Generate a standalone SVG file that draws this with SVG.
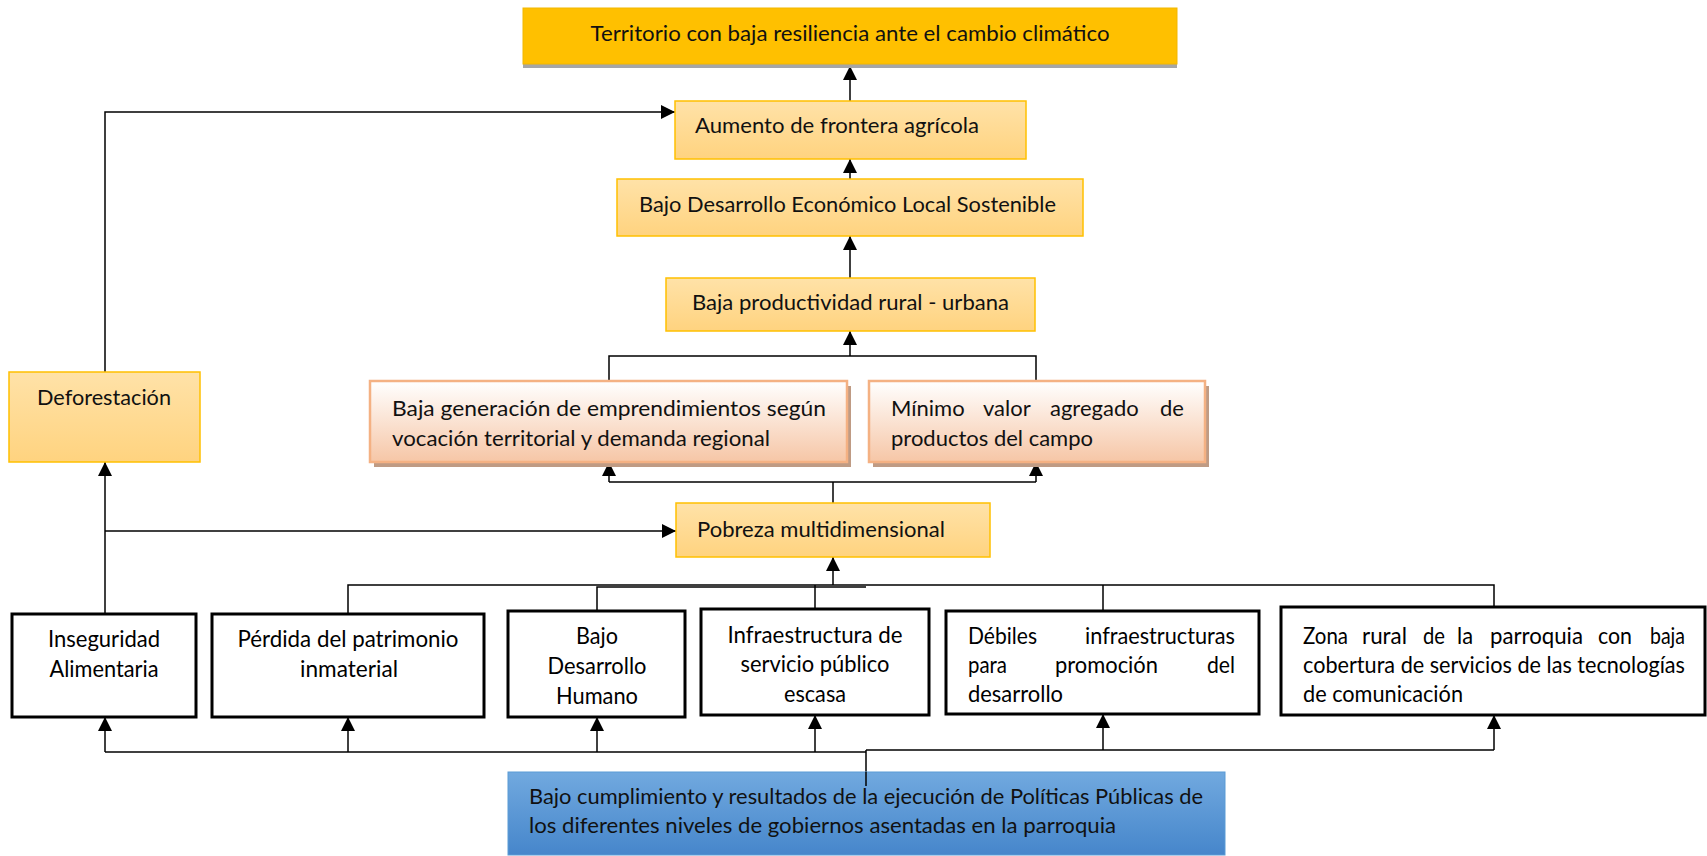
<svg xmlns="http://www.w3.org/2000/svg" width="1707" height="856" viewBox="0 0 1707 856">
<defs>
<linearGradient id="gOr" x1="0" y1="0" x2="0" y2="1"><stop offset="0" stop-color="#FFE2A8"/><stop offset="1" stop-color="#FFD37F"/></linearGradient>
<linearGradient id="gPe" x1="0" y1="0" x2="0" y2="1"><stop offset="0" stop-color="#FFFFFF"/><stop offset="1" stop-color="#F6C6A6"/></linearGradient>
<linearGradient id="gBl" x1="0" y1="0" x2="0" y2="1"><stop offset="0" stop-color="#71A9DF"/><stop offset="1" stop-color="#4686CB"/></linearGradient>
<marker id="ar" markerUnits="userSpaceOnUse" markerWidth="14" markerHeight="16" viewBox="0 0 14 16" refX="14" refY="7" orient="auto"><path d="M0,0 L14,7 L0,14 Z" fill="#000"/></marker>
</defs>
<style>
text{font-family:Lato,"Open Sans","Liberation Sans",sans-serif;font-size:22px;fill:#111}
.c{text-anchor:middle}
.b{font-size:23px;fill:#000}
.or{fill:url(#gOr);stroke:#FFC000;stroke-width:1.5}
.pe{fill:url(#gPe);stroke:#F4B183;stroke-width:2.5}
.sh{fill:#BF9B84}
.wb{fill:#fff;stroke:#000;stroke-width:3}
.ln{fill:none;stroke:#000;stroke-width:1.5}
.ar{fill:none;stroke:#000;stroke-width:1.5;marker-end:url(#ar)}
</style>
<rect width="1707" height="856" fill="#fff"/>

<g id="connectors">
<path class="ar" d="M850,101 V66"/>
<path class="ar" d="M850,179 V159"/>
<path class="ar" d="M850,278 V236"/>
<path class="ln" d="M609,381 V356 H1036 V381"/>
<path class="ar" d="M850,356 V331"/>
<path class="ln" d="M833,503 V482"/>
<path class="ln" d="M609,482 H1036"/>
<path class="ar" d="M609,482 V462"/>
<path class="ar" d="M1036,482 V462"/>
<path class="ar" d="M105,372 V112 H675"/>
<path class="ar" d="M105,614 V462"/>
<path class="ar" d="M105,531 H676"/>
<path class="ln" d="M348,614 V585 H1494 V607"/>
<path class="ln" d="M597,611 V587 H866"/>
<path class="ln" d="M815,609 V585"/>
<path class="ln" d="M1103,611 V585"/>
<path class="ar" d="M833,585 V557"/>
<path class="ln" d="M105,752 H866"/>
<path class="ln" d="M866,750 H1494"/>
<path class="ln" d="M866,786 V750"/>
<path class="ar" d="M105,752 V717"/>
<path class="ar" d="M348,752 V717"/>
<path class="ar" d="M597,752 V717"/>
<path class="ar" d="M815,752 V715"/>
<path class="ar" d="M1103,750 V714"/>
<path class="ar" d="M1494,750 V715"/>
</g>

<g id="n-territorio">
<rect x="523" y="11" width="654" height="57" fill="#A6A6A6"/>
<rect x="523" y="8" width="654" height="56" fill="#FFC000" stroke="#F2B700" stroke-width="1"/>
<text x="850" y="41" class="c" textLength="519" lengthAdjust="spacingAndGlyphs">Territorio con baja resiliencia ante el cambio climático</text>
</g>

<g id="n-aumento">
<rect x="675" y="101" width="351" height="58" class="or"/>
<text x="695" y="133" textLength="284" lengthAdjust="spacingAndGlyphs">Aumento de frontera agrícola</text>
</g>

<g id="n-bajo-desarrollo-eco">
<rect x="617" y="179" width="466" height="57" class="or"/>
<text x="639" y="212" textLength="417" lengthAdjust="spacingAndGlyphs">Bajo Desarrollo Económico Local Sostenible</text>
</g>

<g id="n-baja-productividad">
<rect x="666" y="278" width="369" height="53" class="or"/>
<text x="692" y="310" textLength="317" lengthAdjust="spacingAndGlyphs">Baja productividad rural - urbana</text>
</g>

<g id="n-baja-generacion">
<rect x="374" y="386" width="477" height="81" class="sh"/>
<rect x="370" y="381" width="477" height="81" class="pe"/>
<text x="392" y="416" textLength="434" lengthAdjust="spacingAndGlyphs">Baja generación de emprendimientos según</text>
<text x="392" y="446" textLength="378" lengthAdjust="spacingAndGlyphs">vocación territorial y demanda regional</text>
</g>

<g id="n-minimo-valor">
<rect x="873" y="386" width="336" height="81" class="sh"/>
<rect x="869" y="381" width="336" height="81" class="pe"/>
<text y="416"><tspan x="891">Mínimo</tspan><tspan x="983">valor</tspan><tspan x="1050">agregado</tspan><tspan x="1160">de</tspan></text>
<text x="891" y="446" textLength="202" lengthAdjust="spacingAndGlyphs">productos del campo</text>
</g>

<g id="n-pobreza">
<rect x="676" y="503" width="314" height="54" class="or"/>
<text x="697" y="537" textLength="248" lengthAdjust="spacingAndGlyphs">Pobreza multidimensional</text>
</g>

<g id="n-deforestacion">
<rect x="9" y="372" width="191" height="90" class="or"/>
<text x="104" y="405" class="c" textLength="134" lengthAdjust="spacingAndGlyphs">Deforestación</text>
</g>

<g id="n-inseguridad">
<rect x="12" y="614" width="184" height="103" class="wb"/>
<text x="104" y="647" class="c b" textLength="112" lengthAdjust="spacingAndGlyphs">Inseguridad</text>
<text x="104" y="677" class="c b" textLength="109" lengthAdjust="spacingAndGlyphs">Alimentaria</text>
</g>

<g id="n-perdida">
<rect x="212" y="614" width="272" height="103" class="wb"/>
<text x="348" y="647" class="c b" textLength="221" lengthAdjust="spacingAndGlyphs">Pérdida del patrimonio</text>
<text x="349" y="677" class="c b" textLength="98" lengthAdjust="spacingAndGlyphs">inmaterial</text>
</g>

<g id="n-bajo-desarrollo-humano">
<rect x="508" y="611" width="177" height="106" class="wb"/>
<text x="597" y="644" class="c b" textLength="42" lengthAdjust="spacingAndGlyphs">Bajo</text>
<text x="597" y="674" class="c b" textLength="99" lengthAdjust="spacingAndGlyphs">Desarrollo</text>
<text x="597" y="704" class="c b" textLength="82" lengthAdjust="spacingAndGlyphs">Humano</text>
</g>

<g id="n-infraestructura">
<rect x="701" y="609" width="228" height="106" class="wb"/>
<text x="815" y="643" class="c b" textLength="175" lengthAdjust="spacingAndGlyphs">Infraestructura de</text>
<text x="815" y="672" class="c b" textLength="149" lengthAdjust="spacingAndGlyphs">servicio público</text>
<text x="815" y="702" class="c b" textLength="62" lengthAdjust="spacingAndGlyphs">escasa</text>
</g>

<g id="n-debiles">
<rect x="946" y="611" width="313" height="103" class="wb"/>
<text x="968" y="644" class="b" textLength="69" lengthAdjust="spacingAndGlyphs">Débiles</text>
<text x="1085" y="644" class="b" textLength="150" lengthAdjust="spacingAndGlyphs">infraestructuras</text>
<text x="968" y="673" class="b" textLength="39" lengthAdjust="spacingAndGlyphs">para</text>
<text x="1055" y="673" class="b" textLength="103" lengthAdjust="spacingAndGlyphs">promoción</text>
<text x="1207" y="673" class="b" textLength="28" lengthAdjust="spacingAndGlyphs">del</text>
<text x="968" y="702" class="b" textLength="95" lengthAdjust="spacingAndGlyphs">desarrollo</text>
</g>

<g id="n-zona-rural">
<rect x="1281" y="607" width="424" height="108" class="wb"/>
<text x="1303" y="644" class="b" textLength="45" lengthAdjust="spacingAndGlyphs">Zona</text>
<text x="1362" y="644" class="b" textLength="45" lengthAdjust="spacingAndGlyphs">rural</text>
<text x="1423" y="644" class="b" textLength="22" lengthAdjust="spacingAndGlyphs">de</text>
<text x="1457" y="644" class="b" textLength="16" lengthAdjust="spacingAndGlyphs">la</text>
<text x="1490" y="644" class="b" textLength="93" lengthAdjust="spacingAndGlyphs">parroquia</text>
<text x="1598" y="644" class="b" textLength="34" lengthAdjust="spacingAndGlyphs">con</text>
<text x="1650" y="644" class="b" textLength="35" lengthAdjust="spacingAndGlyphs">baja</text>
<text x="1303" y="673" class="b" textLength="382" lengthAdjust="spacingAndGlyphs">cobertura de servicios de las tecnologías</text>
<text x="1303" y="702" class="b" textLength="160" lengthAdjust="spacingAndGlyphs">de comunicación</text>
</g>

<g id="n-bajo-cumplimiento">
<rect x="508" y="772" width="717" height="83" fill="url(#gBl)" stroke="#5B9BD5" stroke-width="1"/>
<path class="ln" d="M866,786 V772"/>
<text x="529" y="804" textLength="674" lengthAdjust="spacingAndGlyphs">Bajo cumplimiento y resultados de la ejecución de Políticas Públicas de</text>
<text x="529" y="833" textLength="587" lengthAdjust="spacingAndGlyphs">los diferentes niveles de gobiernos asentadas en la parroquia</text>
</g>
</svg>
